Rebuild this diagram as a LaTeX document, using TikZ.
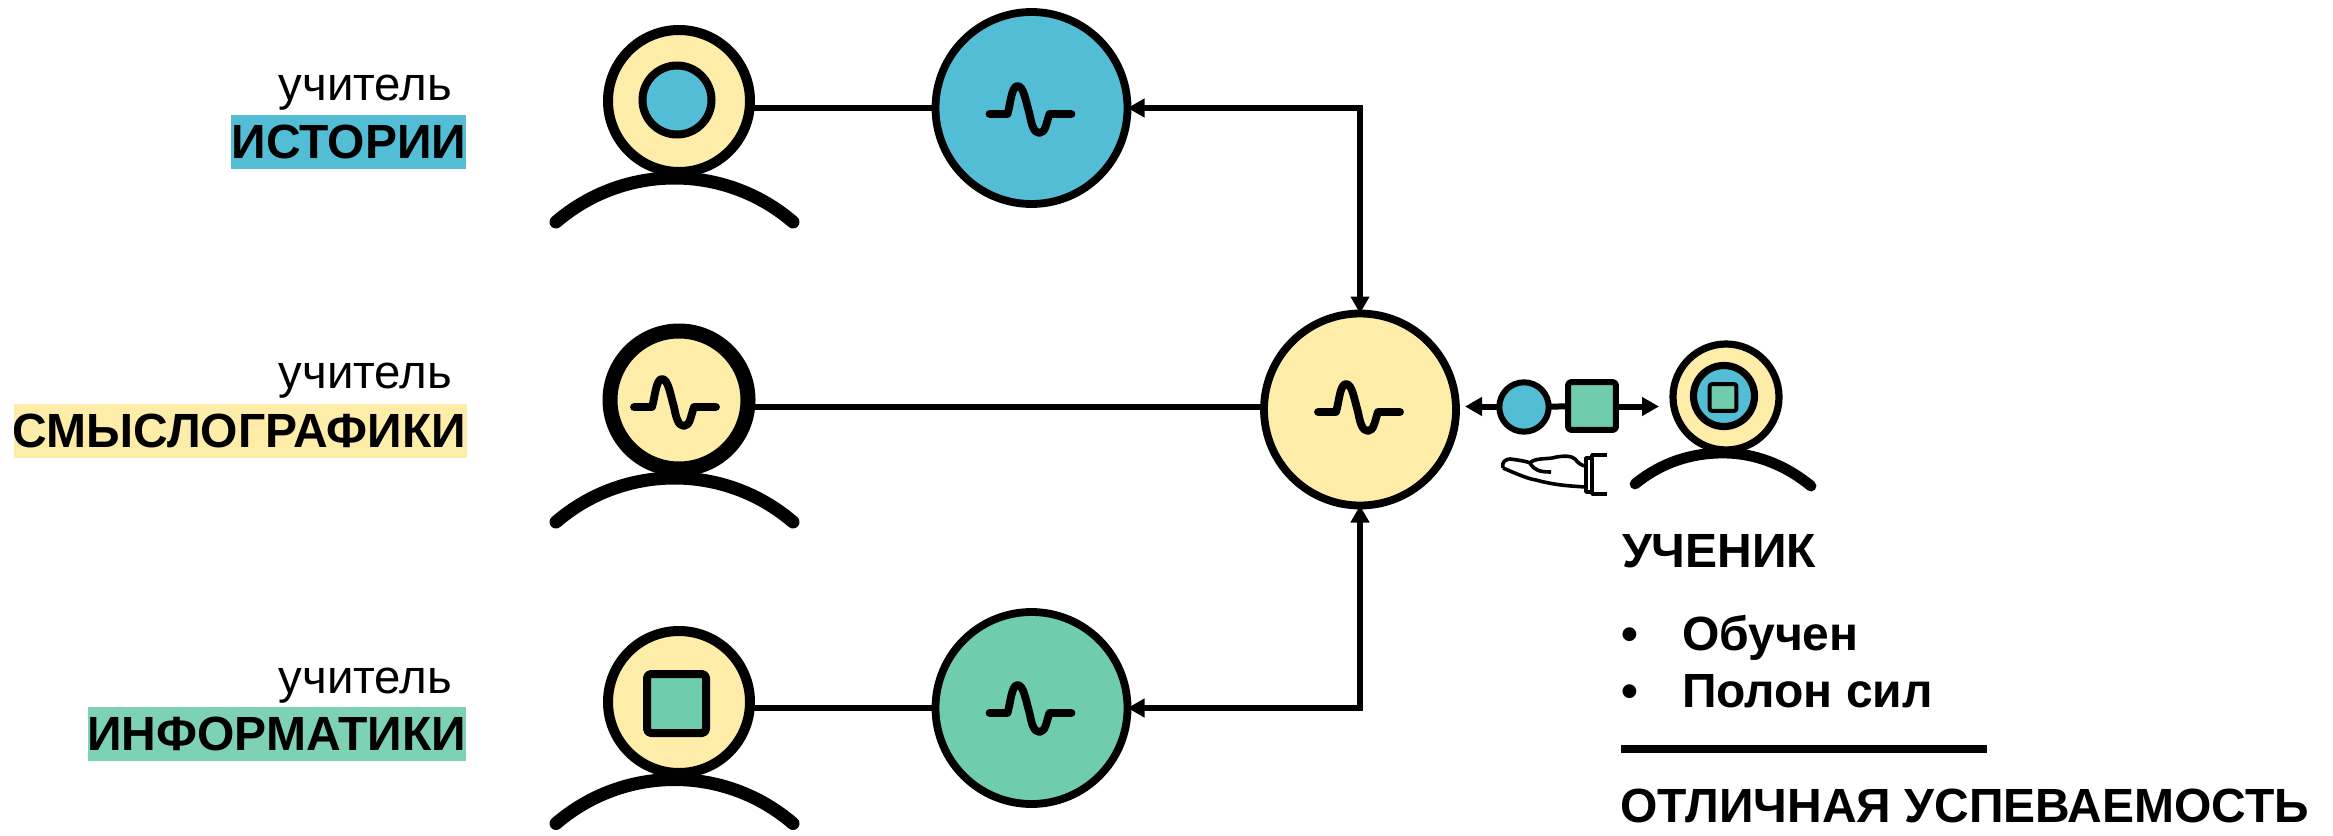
\documentclass[tikz,border=0pt]{standalone}
\usepackage{fontspec}
\setmainfont{Liberation Sans}
\usetikzlibrary{arrows.meta}
\definecolor{cblue}{HTML}{52BDD5}
\definecolor{cyel}{HTML}{FEECA9}
\definecolor{cgrn}{HTML}{6FCDAE}
\definecolor{chl}{HTML}{7CD2B3}
\tikzset{
  x=0.5pt,y=-0.5pt,
  ink/.style={draw=black,line join=round},
  bigdisc/.style={circle,ink,line width=3.9pt,minimum size=96pt,inner sep=0pt,outer sep=0pt},
  head/.style={circle,ink,line width=5pt,minimum size=71pt,inner sep=0pt,outer sep=0pt,fill=cyel},
  shoulder/.style={draw=black,line width=6.5pt,line cap=round},
  wavy/.style={draw=black,line width=3.9pt,line cap=round,line join=round},
  conn/.style={draw=black,line width=3pt},
  tip/.style={-{Triangle[length=8.5pt,width=9pt]}},
  tips/.style={{Triangle[length=8.5pt,width=9pt]}-{Triangle[length=8.5pt,width=9pt]}},
  lbl/.style={font=\fontsize{23.7}{26}\selectfont,anchor=base east,inner sep=0pt,outer sep=0pt},
  blbl/.style={font=\fontsize{24}{26}\selectfont\bfseries,anchor=base east,inner sep=0pt,outer sep=0pt},
  txt/.style={font=\fontsize{24}{26}\selectfont\bfseries,anchor=base west,inner sep=0pt,outer sep=0pt},
  fine/.style={draw=black,line width=1.8pt,line join=round},
}
\newcommand{\wave}[2]{%
  \draw[wavy,shift={(#1,#2)}] (-42,6) -- (-24,6) .. controls (-21,-4) and (-20,-22) .. (-14,-22)
    .. controls (-8,-22) and (-6,-8) .. (-2,6) .. controls (0,16) and (2,25) .. (8,25)
    .. controls (14,25) and (15,14) .. (18,6) -- (40,6);}
\newcommand{\shoulders}[1]{%
  \draw[shoulder,shift={(674.5,#1)}] (-118.5,44) .. controls (-85.5,15.6) and (-43.6,0) .. (0,0) .. controls (43.6,0) and (85.5,15.6) .. (118.5,44);}
\begin{document}
\begin{tikzpicture}
\useasboundingbox (0,0) rectangle (2333,835);
% label highlights
\fill[cblue] (231,115) rectangle (466,169);
\fill[cyel] (14,404) rectangle (467,458);
\fill[chl] (88,707) rectangle (466,761);
\node[lbl] (t1) at (452,100) {учитель};
\node[lbl] (t2) at (452,388) {учитель};
\node[lbl] (t3) at (452,693) {учитель};
\node[blbl] (b1) at (466,158) {ИСТОРИИ};
\node[blbl] (b2) at (466,447) {СМЫСЛОГРАФИКИ};
\node[blbl] (b3) at (466,750) {ИНФОРМАТИКИ};
% discs
\node[bigdisc,fill=cblue] (dA) at (1031.5,108) {};
\node[bigdisc,fill=cyel] (dB) at (1360,409.5) {};
\node[bigdisc,fill=cgrn] (dC) at (1031.5,708) {};
% heads
\node[head] (h1) at (679,101) {};
\node[head,line width=7.5pt,minimum size=69pt] (h2) at (679,400) {};
\node[head] (h3) at (679,702) {};
% connectors
\draw[conn] (h1.east|-dA.center) -- (dA.west);
\draw[conn] (h2.east|-0,407) -- (dB.west|-0,407);
\draw[conn] (h3.east|-dC.center) -- (dC.west);
\draw[conn,tips] (dA.east) -| (dB.north);
\draw[conn,tips] (dC.east) -| (dB.south);
\wave{1031.5}{108}
\wave{1360}{406}
\wave{1031.5}{707}
\wave{676}{401}
% head contents
\node[circle,ink,line width=4pt,minimum size=34.5pt,inner sep=0pt,fill=cblue] (i1) at (677,100) {};
\node[rectangle,rounded corners=2pt,ink,line width=4pt,minimum size=29.5pt,inner sep=0pt,fill=cgrn] (i3) at (676.5,703.5) {};
% shoulders
\shoulders{178}
\shoulders{478}
\shoulders{779.5}
% pupil group
\node[circle,ink,line width=3pt,minimum size=24.7pt,inner sep=0pt,outer sep=0pt,fill=cblue] (pc) at (1524,407) {};
\node[rectangle,rounded corners=1.5pt,ink,line width=3pt,minimum size=23.9pt,inner sep=0pt,outer sep=0pt,fill=cgrn] (ps) at (1592,406) {};
\coordinate (lt) at (1465,406.5);
\coordinate (rt) at (1659,406.5);
\draw[conn] (pc) -- (ps);
\draw[conn,tip] (pc.west|-lt) -- (lt);
\draw[conn,tip] (ps.east|-rt) -- (rt);
\node[head,line width=3.6pt,minimum size=53pt] (h4) at (1726,397) {};
\node[circle,ink,line width=3.6pt,minimum size=30.5pt,inner sep=0pt,fill=cblue] (i4) at (1724,396) {};
\node[rectangle,rounded corners=1pt,ink,line width=2pt,minimum size=13.3pt,inner sep=0pt,fill=cgrn] (s4) at (1723,397.5) {};
\draw[shoulder,line width=5.4pt] (1635,484) .. controls (1662,462) and (1692,453) .. (1723,453) .. controls (1754,453) and (1784,464) .. (1811,486);
% hand
\draw[fine] (1503,468) .. controls (1501,462) and (1506,459) .. (1510,459) .. controls (1519,460) and (1529,462) .. (1530,463)
  .. controls (1534,458) and (1547,459) .. (1552,458) .. controls (1564,455) and (1572,456) .. (1575,459) .. controls (1578,463) and (1582,466) .. (1586,466);
\draw[fine] (1503,468) .. controls (1519,475) and (1529,479) .. (1536,480) .. controls (1554,485) and (1569,486) .. (1586,487);
\draw[fine] (1530,463) .. controls (1534,470) and (1539,472) .. (1551,472);
\draw[fine] (1586,458) rectangle (1592,492);
\draw[fine] (1607,455) -- (1592,455) -- (1592,494) -- (1607,494);
% text
\node[txt] (u) at (1622,567) {УЧЕНИК};
\node[txt,anchor=base] (bu1) at (1630,650) {•};
\node[txt,anchor=base] (bu2) at (1630,707) {•};
\node[txt] (l1) at (1682,650) {Обучен};
\node[txt] (l2) at (1682,707) {Полон сил};
\coordinate (ra) at (1620.5,749);
\coordinate (rb) at (1987,749);
\draw[draw=black,line width=4pt] (ra) -- (rb);
\node[txt] (o) at (1620,822) {ОТЛИЧНАЯ УСПЕВАЕМОСТЬ};
\end{tikzpicture}
\end{document}
